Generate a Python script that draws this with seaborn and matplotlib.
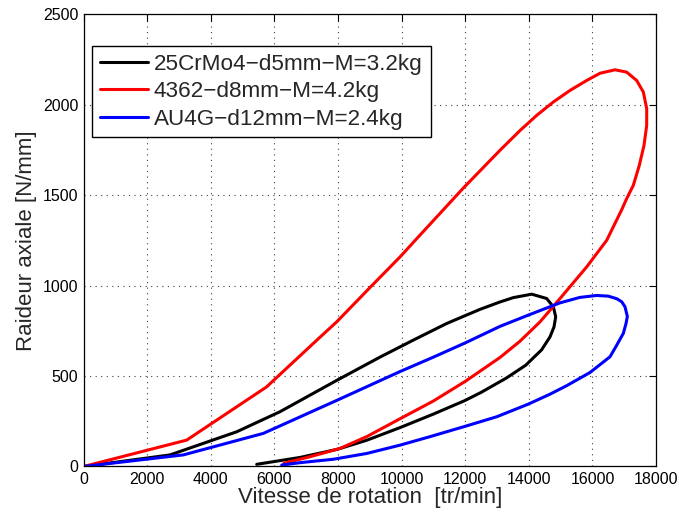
import numpy as np
import pandas as pd
import seaborn as sns
import matplotlib
matplotlib.use("Agg")
import matplotlib.pyplot as plt

# values, in path order (upper branch, tip, lower branch)
black_label = "25CrMo4\u2212d5mm\u2212M=3.2kg"
black_x = [0, 2714, 4812, 6174, 7976, 9319, 10366, 11416, 12463, 13093, 13511, 14090,
           14561, 14770, 14844, 14791, 14665, 14400, 13900, 13300, 12500, 11992, 11000,
           9948, 8900, 7976, 6802, 5441]
black_y = [0, 64, 192, 303, 478, 605, 699, 791, 869, 910, 934, 953,
           929, 883, 828, 772, 717, 645, 560, 490, 410, 365, 290,
           215, 145, 95, 50, 12]

red_label = "4362\u2212d8mm\u2212M=4.2kg"
red_x = [0, 3240, 5750, 7431, 7957, 9004, 9948, 10577, 11939, 13093, 13721, 14246,
         14770, 15294, 15819, 16238, 16710, 17077, 17391, 17600, 17706, 17706, 17621,
         17474, 17285, 17077, 16920, 16448, 15819, 14980, 14351, 13721, 13093, 11992,
         10995, 9948, 8900, 8061, 7117, 6300]
red_y = [0, 146, 440, 715, 800, 990, 1159, 1280, 1540, 1749, 1858, 1942,
         2016, 2080, 2135, 2175, 2194, 2181, 2135, 2071, 1979, 1887, 1776,
         1666, 1555, 1482, 1420, 1251, 1104, 929, 800, 693, 603, 470,
         362, 264, 165, 100, 54, 18]

blue_label = "AU4G\u2212d12mm\u2212M=2.4kg"
blue_x = [0, 3132, 5648, 7976, 9948, 11000, 11992, 13093, 13950, 14980, 15600, 16133,
          16500, 16763, 16920, 17024, 17097, 17056, 16970, 16763, 16553, 15924, 15190,
          14665, 13983, 12989, 11992, 10891, 9948, 8900, 7850, 6802, 6227]
blue_y = [0, 64, 183, 367, 525, 605, 683, 775, 835, 905, 935, 946,
          942, 928, 911, 883, 830, 791, 736, 671, 607, 520, 447,
          400, 345, 275, 222, 165, 118, 72, 40, 21, 8]

x_ticks = [0, 2000, 4000, 6000, 8000, 10000, 12000, 14000, 16000, 18000]
y_ticks = [0, 500, 1000, 1500, 2000, 2500]

series = [(black_label, black_x, black_y), (red_label, red_x, red_y), (blue_label, blue_x, blue_y)]
frames = []
for label, xs, ys in series:
    frames.append(pd.DataFrame({"x": xs, "y": ys, "serie": label}))
df = pd.concat(frames, ignore_index=True)

sns.set_style("white")
plt.rcParams["font.family"] = ["Liberation Sans", "DejaVu Sans"]

fig = plt.figure(figsize=(6.79, 5.15), dpi=100)
ax = fig.add_axes([0.1233, 0.0942, 0.8429, 0.8777])

palette = {black_label: "#000000", red_label: "#ff0000", blue_label: "#0000ff"}
sns.lineplot(data=df, x="x", y="y", hue="serie", palette=palette, sort=False,
             estimator=None, units="serie", linewidth=2.2, ax=ax, legend=False)

ax.set_xlim(0, 18000)
ax.set_ylim(0, 2500)
ax.set_xticks(x_ticks)
ax.set_yticks(y_ticks)
ax.tick_params(direction="in", length=5, width=0.8, top=True, right=True,
               labelsize=11.5, colors="black", pad=4)
ax.grid(True, linestyle=(0, (1, 4)), linewidth=0.8, color="0.25")
for s in ax.spines.values():
    s.set_color("black")
    s.set_linewidth(0.9)

ax.set_xlabel("Vitesse de rotation  [tr/min]", fontsize=16, labelpad=0)
ax.set_ylabel("Raideur axiale [N/mm]", fontsize=16, labelpad=4)

handles = [plt.Line2D([], [], color=palette[l], linewidth=2.2) for l, _, _ in series]
leg = ax.legend(handles, [l for l, _, _ in series], loc="upper left",
                bbox_to_anchor=(0.0145, 0.930), borderaxespad=0, fontsize=16.2,
                handlelength=2.15, handletextpad=0.25, labelspacing=0.28,
                borderpad=0.35, fancybox=False, framealpha=1)
leg.get_frame().set_edgecolor("black")
leg.get_frame().set_linewidth(1.0)

fig.savefig("out.png", dpi=100)
